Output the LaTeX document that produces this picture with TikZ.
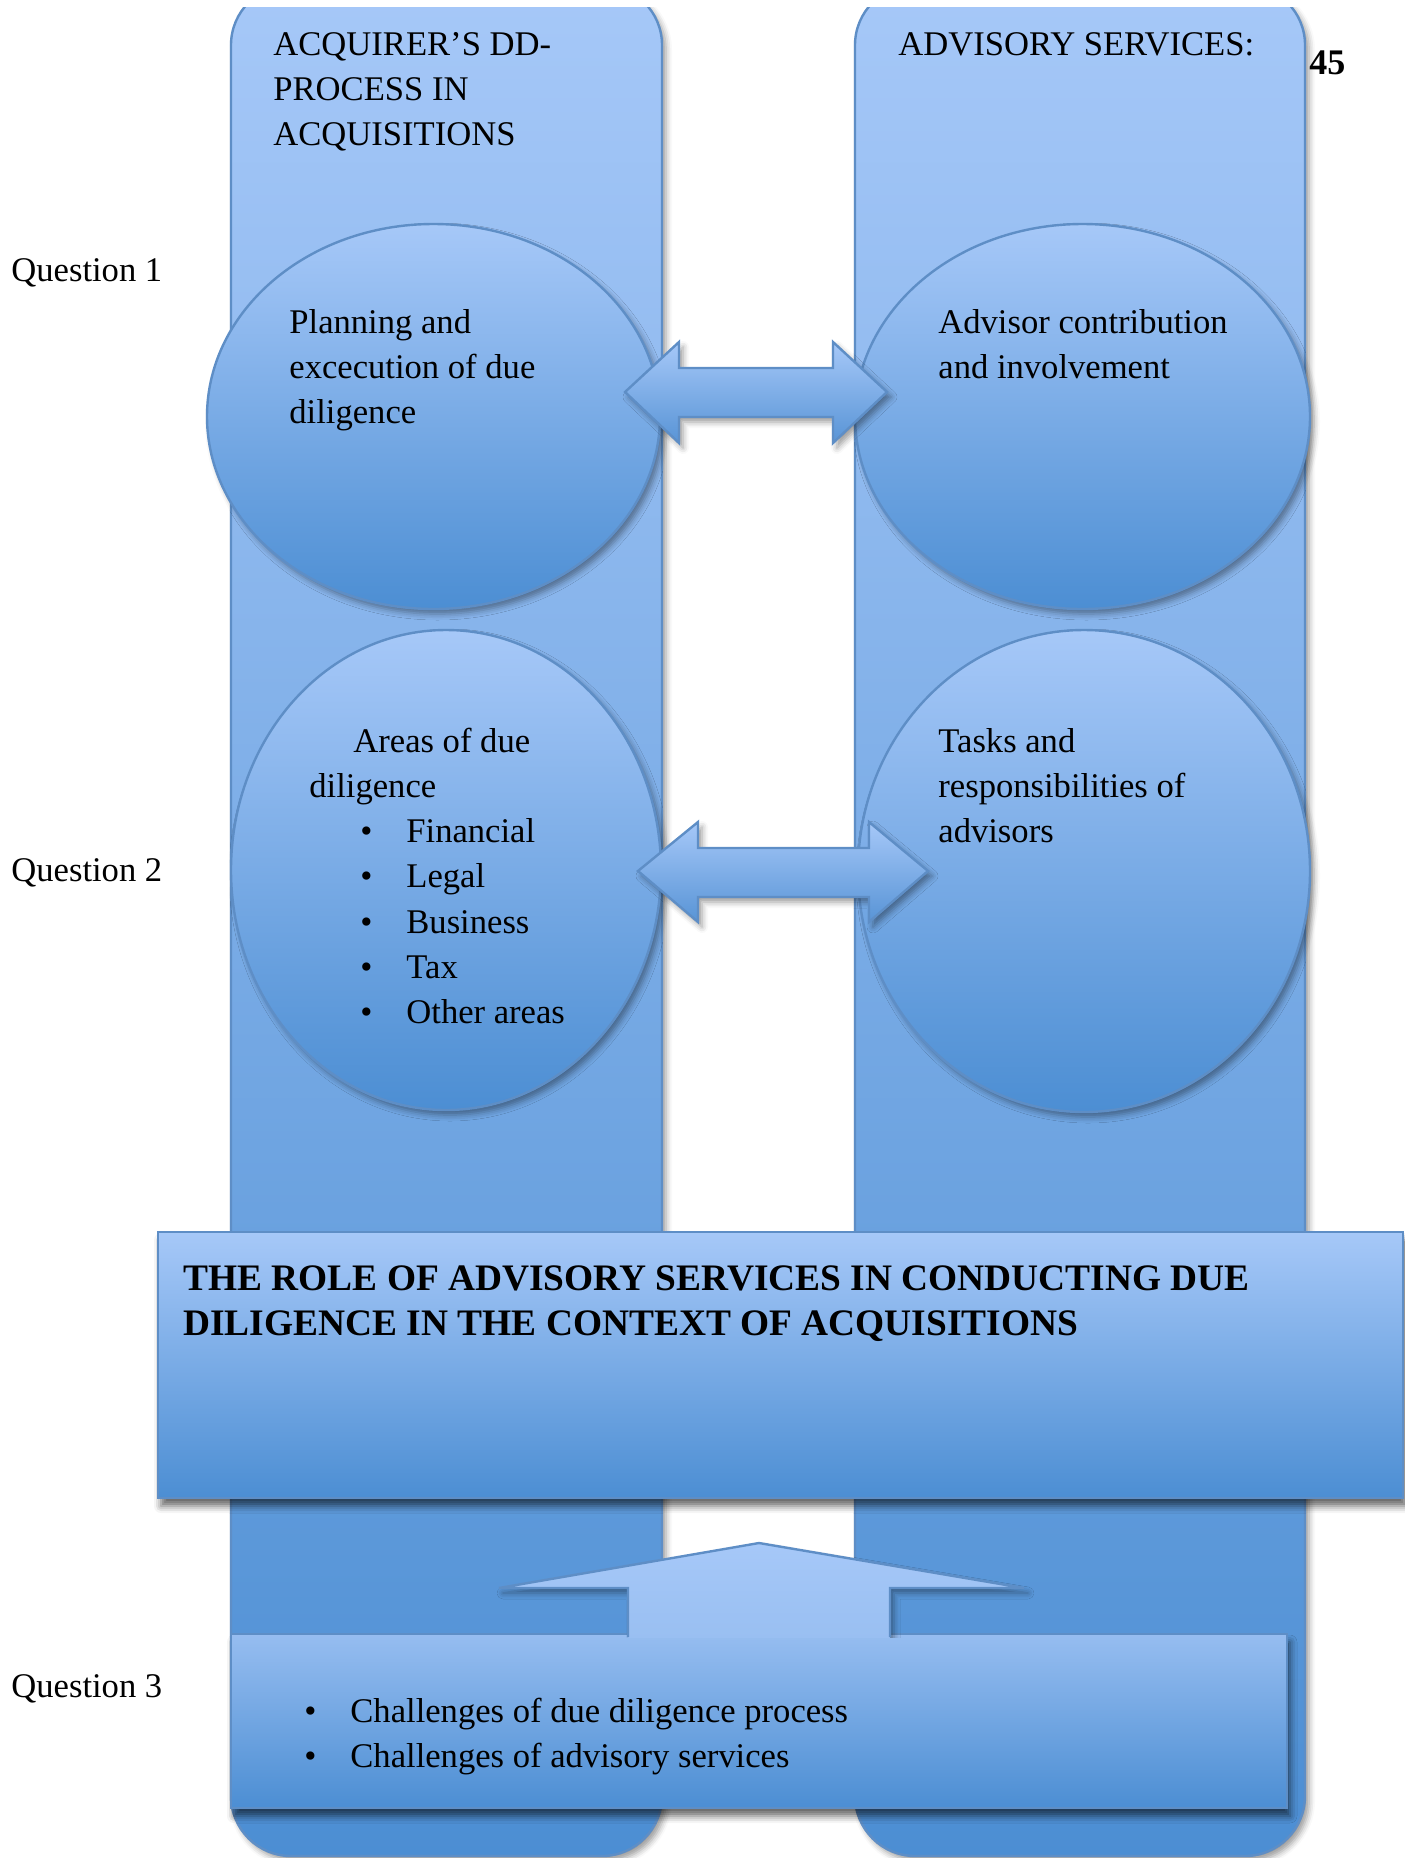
\documentclass[tikz,border=0pt]{standalone}
\usepackage{fontspec}
\setmainfont{Liberation Serif}
\usetikzlibrary{shapes.geometric,shadows.blur}

\definecolor{paleblue}{RGB}{166,200,248}
\definecolor{midblue}{RGB}{76,142,211}
\definecolor{arrowlow}{RGB}{88,148,214}
\definecolor{panellow}{RGB}{150,189,240}
\definecolor{rimblue}{RGB}{94,142,198}

\tikzset{
  softshadow/.style={blur shadow={shadow xshift=2pt,shadow yshift=-2.5pt,
      shadow blur radius=3pt,shadow opacity=40}},
  deepshadow/.style={blur shadow={shadow xshift=1.5pt,shadow yshift=-4pt,
      shadow blur radius=3.5pt,shadow opacity=60}},
  pillar/.style={draw=rimblue,line width=1.2pt,top color=paleblue,
      bottom color=midblue,rounded corners=30pt,softshadow},
  bubble/.style={ellipse,draw=rimblue,line width=1.2pt,top color=paleblue,
      bottom color=midblue,inner sep=0pt,softshadow},
  blockarrow/.style={draw=rimblue,line width=1.2pt,top color=paleblue,
      bottom color=arrowlow,line join=miter,softshadow},
  rim/.style={draw=rimblue,line width=1.2pt,line join=miter},
  banner/.style={draw=rimblue,line width=1.2pt,top color=paleblue,
      bottom color=midblue,deepshadow},
  footbox/.style={draw=rimblue,line width=1.2pt,top color=panellow,
      bottom color=midblue,deepshadow},
  body/.style={anchor=base west,inner sep=0pt,
      font=\fontsize{17.3pt}{22.5pt}\selectfont},
  heading/.style={anchor=base west,inner sep=0pt,
      font=\bfseries\fontsize{18.7pt}{23pt}\selectfont},
}

\begin{document}
\begin{tikzpicture}[x=0.5pt,y=-0.5pt]
\useasboundingbox (0,0) rectangle (1404,1858);

% the two tall columns, cut off at the top edge
\begin{scope}
  \clip (0,7) rectangle (1404,1870);
  \path[pillar] (231,-15) rectangle (662,1856);
  \path[pillar] (855,-15) rectangle (1305,1856);
\end{scope}

% column headings
\node[body] (acqA) at (273,55) {ACQUIRER’S DD-};
\node[body] (acqB) at (273,100) {PROCESS IN};
\node[body] (acqC) at (273,145) {ACQUISITIONS};
\node[body] (adv) at (898,55) {ADVISORY SERVICES:};
\node[anchor=base west,inner sep=0pt,
      font=\bfseries\fontsize{18pt}{22pt}\selectfont] (pageno) at (1309,74) {45};

% row labels
\node[body] (q1) at (11,281) {Question 1};
\node[body] (q2) at (11,881) {Question 2};
\node[body] (q3) at (11,1697) {Question 3};

% ellipses
\node[bubble,minimum width=226.5pt,minimum height=192.5pt] (plan) at (433.5,416.5) {};
\node[bubble,minimum width=227.5pt,minimum height=192.5pt] (contrib) at (1082.5,416.5) {};
\node[bubble,minimum width=215pt,minimum height=240pt] (areas) at (446,870) {};
\node[bubble,minimum width=226pt,minimum height=241pt] (tasks) at (1084,871) {};

% double-headed block arrows between the ellipses
\path[blockarrow] (625,392) -- (679,342) -- (679,368) -- (833,368) -- (833,342)
  -- (887,392) -- (833,443) -- (833,417) -- (679,417) -- (679,443) -- cycle;
\path[blockarrow] (638,871) -- (698,822) -- (698,848) -- (869,848) -- (869,822)
  -- (928,871) -- (869,922) -- (869,897) -- (698,897) -- (698,922) -- cycle;

% ellipse texts
\node[body] (planA) at (289,333) {Planning and};
\node[body] (planB) at (289,378) {excecution of due};
\node[body] (planC) at (289,423) {diligence};

\node[body] (contA) at (938,333) {Advisor contribution};
\node[body] (contB) at (938,378) {and involvement};

\node[body] (areaA) at (353,752) {Areas of due};
\node[body] (areaB) at (309,797) {diligence};
\node[body] (dotA) at (360,842) {•};
\node[body] (itemA) at (406,842) {Financial};
\node[body] (dotB) at (360,887) {•};
\node[body] (itemB) at (406,887) {Legal};
\node[body] (dotC) at (360,933) {•};
\node[body] (itemC) at (406,933) {Business};
\node[body] (dotD) at (360,978) {•};
\node[body] (itemD) at (406,978) {Tax};
\node[body] (dotE) at (360,1023) {•};
\node[body] (itemE) at (406,1023) {Other areas};

\node[body] (taskA) at (938,752) {Tasks and};
\node[body] (taskB) at (938,797) {responsibilities of};
\node[body] (taskC) at (938,842) {advisors};

% title banner
\path[banner] (158,1232) rectangle (1403,1498);
\node[heading] (titleA) at (183,1290) {THE ROLE OF ADVISORY SERVICES IN CONDUCTING DUE};
\node[heading] (titleB) at (183,1335) {DILIGENCE IN THE CONTEXT OF ACQUISITIONS};

% challenges panel
\path[footbox] (231,1634) rectangle (1287,1808);

% arrow rising out of the panel: its shaft runs into the panel with no edge
\begin{scope}
  \clip (0,0) rectangle (1404,1637);
  \path[blockarrow,draw=none,top color=paleblue,bottom color=panellow]
    (759,1543) -- (1024,1588) -- (890,1588) -- (890,1660) -- (628,1660)
    -- (628,1588) -- (499,1588) -- cycle;
\end{scope}
\draw[rim] (628,1637) -- (628,1588) -- (499,1588) -- (759,1543)
  -- (1024,1588) -- (890,1588) -- (890,1637);

\node[body] (dotF) at (304,1722) {•};
\node[body] (chalA) at (350,1722) {Challenges of due diligence process};
\node[body] (dotG) at (304,1767) {•};
\node[body] (chalB) at (350,1767) {Challenges of advisory services};
\end{tikzpicture}
\end{document}
